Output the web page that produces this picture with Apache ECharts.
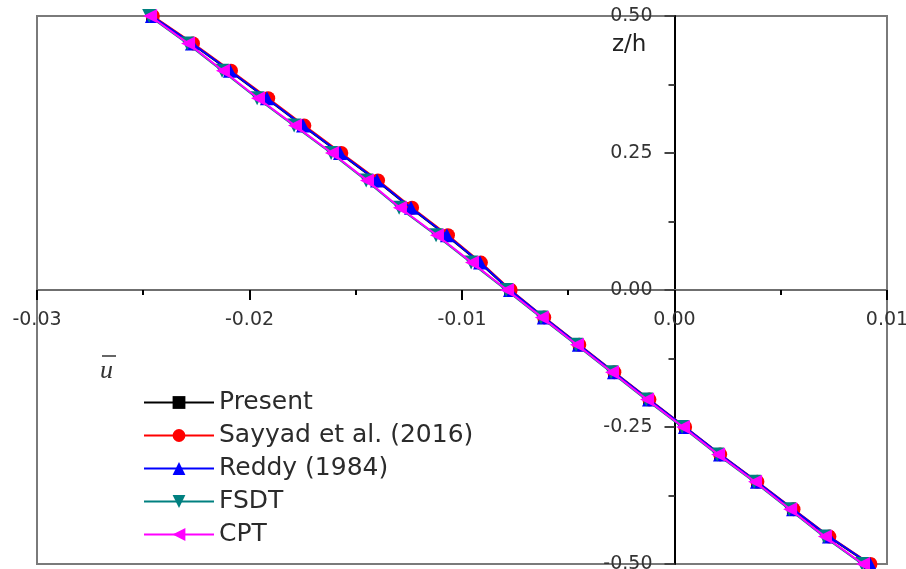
<!DOCTYPE html>
<html>
<head>
<meta charset="utf-8">
<script src="https://cdn.jsdelivr.net/npm/echarts@6/dist/echarts.min.js"></script>
<style>
	html, body { margin: 0; padding: 0; background: #fff; }
	#chart { width: 906px; height: 569px; }
</style>
</head>
<body>
<div id="chart"></div>
<script>
// z/h positions (y axis)
var zValues = [0.5, 0.45, 0.4, 0.35, 0.3, 0.25, 0.2, 0.15, 0.1, 0.05, 0, -0.05, -0.1, -0.15, -0.2, -0.25, -0.3, -0.35, -0.4, -0.45, -0.5];

// u-bar values
var present = [-0.02461, -0.02273, -0.02095, -0.01921, -0.01750, -0.01577, -0.01403, -0.01243, -0.01074, -0.00918, -0.00776, -0.00617, -0.00452, -0.00287, -0.00122, 0.00047, 0.00212, 0.00386, 0.00555, 0.00724, 0.00916];
var sayyad = [-0.02455, -0.02266, -0.02087, -0.01912, -0.01742, -0.01568, -0.01395, -0.01235, -0.01066, -0.00911, -0.00771, -0.00613, -0.00448, -0.00283, -0.00118, 0.00050, 0.00215, 0.00390, 0.00560, 0.00729, 0.00922];
var reddy = [-0.02459, -0.02271, -0.02092, -0.01918, -0.01748, -0.01574, -0.01400, -0.01240, -0.01071, -0.00915, -0.00774, -0.00615, -0.00450, -0.00285, -0.00120, 0.00049, 0.00214, 0.00388, 0.00558, 0.00727, 0.00920];
var fsdt = [-0.02472, -0.02293, -0.02129, -0.01964, -0.01790, -0.01616, -0.01451, -0.01296, -0.01122, -0.00957, -0.00792, -0.00628, -0.00463, -0.00298, -0.00133, 0.00036, 0.00201, 0.00375, 0.00540, 0.00704, 0.00883];
var cpt = [-0.02468, -0.02289, -0.02125, -0.01960, -0.01786, -0.01612, -0.01447, -0.01292, -0.01118, -0.00953, -0.00788, -0.00624, -0.00459, -0.00294, -0.00129, 0.00040, 0.00205, 0.00379, 0.00544, 0.00708, 0.00887];

var seriesNames = ['Present', 'Sayyad et al. (2016)', 'Reddy (1984)', 'FSDT', 'CPT'];
var seriesColors = ['#000000', '#ff0000', '#0000ff', '#008080', '#ff00ff'];
var seriesSymbols = ['rect', 'circle', 'triangle', 'triangle', 'triangle'];
var seriesRotate = [0, 0, 0, 180, 90];
var seriesValues = [present, sayyad, reddy, fsdt, cpt];

function pairs(vals) {
	return vals.map(function(u, i) { return [u, zValues[i]]; });
}

var myChart = echarts.init(document.getElementById('chart'));

var series = seriesNames.map(function(name, k) {
	return {
		name: name,
		type: 'line',
		data: pairs(seriesValues[k]),
		symbol: seriesSymbols[k],
		symbolRotate: seriesRotate[k],
		symbolSize: k == 0 ? 11 : 14,
		showSymbol: true,
		clip: false,
		lineStyle: { color: seriesColors[k], width: 2 },
		itemStyle: { color: seriesColors[k] },
		emphasis: { disabled: true },
		z: 2 + k
	};
});

var labelFont = 'DejaVu Sans, Liberation Sans, sans-serif';

var option = {
	animation: false,
	backgroundColor: '#fff',
	grid: {
		left: 37,
		right: 19,
		top: 16,
		bottom: 5,
		show: true,
		borderColor: '#7a7a7a',
		borderWidth: 2,
		containLabel: false,
		outerBoundsMode: 'none'
	},
	legend: {
		orient: 'vertical',
		left: 143,
		top: 390,
		padding: 0,
		itemWidth: 70,
		itemHeight: 16,
		itemGap: 8,
		data: seriesNames,
		textStyle: {
			fontFamily: labelFont,
			fontSize: 25,
			lineHeight: 25,
			color: '#2b2b2b'
		}
	},
	xAxis: {
		type: 'value',
		min: -0.03,
		max: 0.01,
		interval: 0.01,
		position: 'bottom',
		offset: -274,
		splitLine: { show: false },
		axisLine: { onZero: false, lineStyle: { color: '#6f6f6f', width: 2 } },
		axisTick: { show: true, length: 10, lineStyle: { color: '#000', width: 2 } },
		minorTick: { show: true, splitNumber: 2, length: 5, lineStyle: { color: '#000', width: 2 } },
		axisLabel: {
			margin: 21,
			fontFamily: labelFont,
			fontSize: 19,
			color: '#333',
			formatter: function(v) { return v.toFixed(2); }
		}
	},
	yAxis: {
		type: 'value',
		min: -0.5,
		max: 0.5,
		interval: 0.25,
		position: 'left',
		offset: -637.5,
		splitLine: { show: false },
		axisLine: { onZero: false, lineStyle: { color: '#000', width: 2 } },
		axisTick: { show: true, length: 10, lineStyle: { color: '#444', width: 2 } },
		minorTick: { show: true, splitNumber: 2, length: 6, lineStyle: { color: '#444', width: 2 } },
		axisLabel: {
			margin: 22,
			fontFamily: labelFont,
			fontSize: 19,
			color: '#333',
			formatter: function(v) { return v.toFixed(2); }
		}
	},
	graphic: [{
		type: 'text',
		left: 612,
		top: 34,
		style: {
			text: 'z/h',
			fontFamily: labelFont,
			fontSize: 23,
			fill: '#222'
		}
	}, {
		type: 'text',
		style: {
			x: 100,
			y: 371,
			text: 'u',
			verticalAlign: 'middle',
			fontFamily: 'Liberation Serif, Times New Roman, serif',
			fontStyle: 'italic',
			fontSize: 26,
			fill: '#333'
		}
	}, {
		type: 'line',
		shape: { x1: 102, y1: 356, x2: 116, y2: 356 },
		style: { stroke: '#333', lineWidth: 1.5 }
	}],
	series: series
};

myChart.setOption(option);
window.addEventListener('resize', function() {
	myChart.resize();
});
</script>
</body>
</html>
